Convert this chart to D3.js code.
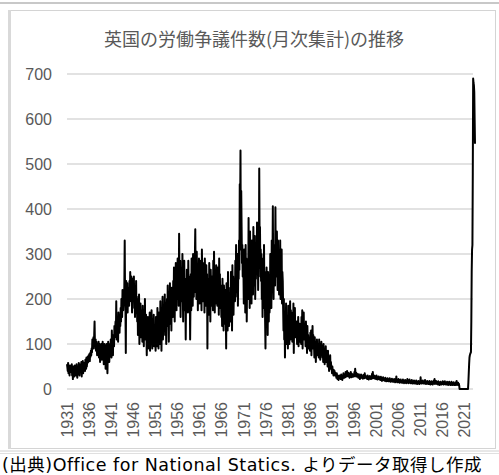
<!DOCTYPE html>
<html>
<head>
<meta charset="utf-8">
<script src="https://cdn.jsdelivr.net/npm/d3@7"></script>
<style>
  html, body { margin: 0; padding: 0; background: #fff; }
  svg { display: block; }
</style>
</head>
<body>
<script>
// 月次の労働争議件数(1931年1月〜2023年7月)
const startYear = 1931;
const monthlyCounts = [
  55,48,40,58,35,50,45,30,52,44,38,48,        // 1931
  42,55,30,46,22,50,38,45,28,52,35,44,        // 1932
  48,30,55,40,25,45,50,35,58,42,30,50,        // 1933
  45,55,38,60,28,50,44,62,35,55,48,58,        // 1934
  52,40,65,55,45,70,50,62,58,72,60,75,        // 1935
  68,78,62,80,72,85,75,90,82,110,95,105,      // 1936
  115,90,120,150,100,95,110,85,105,90,75,100, // 1937
  95,80,105,70,90,100,60,85,95,75,100,65,     // 1938
  90,105,75,95,55,85,100,70,90,45,80,95,      // 1939
  100,65,35,80,105,70,95,60,85,100,75,110,    // 1940
  90,70,130,85,110,75,120,100,95,140,115,130, // 1941
  150,120,195,110,160,130,145,105,170,140,155,125, // 1942
  165,140,180,150,200,170,160,220,185,175,210,190, // 1943
  230,330,200,180,80,240,215,190,235,170,225,200,  // 1944
  210,185,240,205,260,230,195,250,220,170,245,210, // 1945
  235,195,250,180,215,160,225,190,240,170,205,150, // 1946
  200,120,180,145,210,100,165,130,190,115,175,140, // 1947
  160,105,185,130,150,95,175,120,200,110,145,165,  // 1948
  130,75,140,115,160,90,125,145,100,170,85,135,    // 1949
  150,100,175,120,90,155,130,105,165,95,140,120,   // 1950
  135,85,160,110,145,95,180,125,150,90,170,115,    // 1951
  140,100,195,120,165,85,175,135,205,110,155,130,  // 1952
  185,145,210,120,190,160,100,175,200,140,230,165, // 1953
  190,105,215,160,235,145,180,200,130,225,170,205, // 1954
  160,240,185,270,210,150,255,195,280,220,175,265, // 1955
  230,290,200,270,185,345,240,210,285,160,255,225, // 1956
  270,195,300,230,150,260,215,285,175,245,200,110, // 1957
  220,180,265,200,240,170,285,215,250,190,230,110, // 1958
  200,255,175,290,230,265,185,300,240,205,270,215, // 1959
  300,355,250,280,200,305,240,275,175,260,220,290, // 1960
  245,190,285,210,265,230,175,310,255,195,280,225, // 1961
  200,265,170,290,220,240,185,275,210,255,90,230,  // 1962
  190,245,165,280,205,230,150,265,215,185,250,200, // 1963
  225,175,285,195,305,215,170,260,235,190,275,210, // 1964
  250,185,270,215,240,165,290,205,255,180,230,200, // 1965
  160,215,140,245,185,210,130,230,175,200,145,220, // 1966
  180,90,235,150,205,130,260,170,225,140,195,165,  // 1967
  210,150,260,180,240,130,275,195,250,165,220,205, // 1968
  240,195,285,215,320,230,260,205,300,185,275,245, // 1969
  330,265,455,390,530,310,440,360,280,320,250,300, // 1970
  265,190,310,230,280,170,320,210,290,150,245,200, // 1971
  280,200,380,240,310,180,350,220,300,260,190,330, // 1972
  250,330,210,360,270,300,230,340,200,280,245,310, // 1973
  260,370,290,340,220,300,250,490,330,360,270,310, // 1974
  240,300,200,280,160,250,290,180,320,210,260,150, // 1975
  90,220,140,270,180,240,120,260,200,150,230,170,  // 1976
  190,300,220,260,180,330,240,280,406,250,200,300, // 1977
  260,320,230,404,280,300,250,350,270,220,330,260, // 1978
  300,210,280,250,330,200,270,230,310,190,260,240, // 1979
  180,130,200,110,170,70,160,120,190,100,150,130,  // 1980
  140,90,185,120,160,100,145,195,110,175,130,155,  // 1981
  150,105,170,125,190,80,160,135,180,115,150,140,  // 1982
  120,150,100,140,115,160,95,130,110,145,105,125,  // 1983
  140,100,160,120,175,90,150,130,170,110,145,120,  // 1984
  130,95,150,110,125,80,140,100,120,90,115,105,    // 1985
  110,85,125,95,130,75,115,100,140,90,120,105,     // 1986
  100,70,115,85,105,60,95,80,110,75,100,90,        // 1987
  95,70,110,80,100,65,90,75,105,85,95,70,          // 1988
  85,60,100,70,90,55,80,65,95,60,85,70,            // 1989
  75,50,85,55,70,40,65,50,75,45,60,50,             // 1990
  45,35,50,40,38,30,42,35,40,30,36,32,             // 1991
  30,25,35,28,22,30,25,20,28,24,30,26,             // 1992
  28,22,32,25,30,20,27,24,35,28,30,25,             // 1993
  32,26,38,30,35,28,40,32,30,36,28,34,             // 1994
  30,25,35,28,38,30,26,34,29,32,27,30,             // 1995
  33,28,38,30,45,32,28,36,30,34,27,31,             // 1996
  30,25,33,28,30,22,27,24,32,26,29,25,             // 1997
  28,23,31,26,29,24,35,27,30,25,28,24,             // 1998
  27,22,30,25,28,21,26,23,29,24,27,22,             // 1999
  28,23,34,25,38,24,27,30,26,29,23,27,             // 2000
  26,22,30,24,27,21,25,22,28,23,26,21,             // 2001
  24,20,27,22,25,18,23,21,26,20,24,19,             // 2002
  22,18,25,20,23,17,21,19,24,18,22,17,             // 2003
  21,17,24,19,22,16,20,18,23,17,21,16,             // 2004
  20,16,22,18,21,15,19,17,28,16,20,15,             // 2005
  19,15,22,17,20,14,18,16,21,15,19,14,             // 2006
  18,14,21,16,19,13,17,15,20,14,18,13,             // 2007
  19,14,22,16,20,13,18,15,21,14,18,13,             // 2008
  17,13,20,15,18,12,16,14,19,13,17,12,             // 2009
  16,12,19,14,17,11,15,13,18,12,16,11,             // 2010
  17,13,26,15,18,12,16,14,19,13,17,12,             // 2011
  16,12,20,14,17,11,15,13,18,12,16,11,             // 2012
  15,11,18,13,16,10,14,12,17,11,15,10,             // 2013
  16,12,19,14,22,11,15,13,18,12,16,11,             // 2014
  14,10,17,12,15,9,13,11,16,10,14,10,              // 2015
  15,11,17,13,16,10,14,12,17,11,15,10,             // 2016
  14,10,16,12,15,9,13,11,16,10,14,9,               // 2017
  13,9,16,11,14,9,12,10,15,9,13,9,                 // 2018
  13,9,15,11,18,9,12,10,14,9,12,8,                 // 2019
  0,0,0,0,0,0,0,0,0,0,0,0,                         // 2020
  0,0,0,0,0,0,0,0,0,0,0,0,                         // 2021
  15,35,55,70,75,78,80,82,150,260,310,320,         // 2022
  480,690,680,675,660,600,545                      // 2023
];
const yTicks = [0, 100, 200, 300, 400, 500, 600, 700];
const labelEvery = 60; // 5年ごとに年ラベル

const titleText = "英国の労働争議件数(月次集計)の推移";
const sourceText = "(出典)Office for National Statics. よりデータ取得し作成";

const W = 499, H = 475;
const svg = d3.select("body").append("svg").attr("width", W).attr("height", H);

// 上のセル罫線
svg.append("line").attr("x1", 0).attr("x2", W).attr("y1", 3).attr("y2", 3)
  .attr("stroke", "#c8c8c8").attr("stroke-width", 2);

// グラフ枠
svg.append("rect").attr("x", 10.5).attr("y", 10.5).attr("width", 485).attr("height", 438)
  .attr("fill", "#fff").attr("stroke", "#d4d4d4").attr("stroke-width", 1);
svg.append("rect").attr("x", 8).attr("y", 10).attr("width", 3).attr("height", 439)
  .attr("fill", "#d9d9d9");

// タイトル
svg.append("text").attr("x", 254).attr("y", 46).attr("text-anchor", "middle")
  .attr("font-family", "'Noto Sans CJK JP', sans-serif").attr("font-size", 18)
  .attr("fill", "#595959").text(titleText);

const x = d3.scaleLinear().domain([0, monthlyCounts.length - 1]).range([67, 475]);
const y = d3.scaleLinear().domain([0, 700]).range([389, 74]);

// 目盛線
svg.append("g").selectAll("line").data(yTicks).join("line")
  .attr("x1", 67).attr("x2", 473)
  .attr("y1", d => y(d)).attr("y2", d => y(d))
  .attr("stroke", "#d9d9d9").attr("stroke-width", 1.3);

// 縦軸ラベル
const yAxis = d3.axisLeft(y).tickValues(yTicks).tickSize(0).tickPadding(0);
const gy = svg.append("g").attr("transform", "translate(52,0)").call(yAxis);
gy.select(".domain").remove();
gy.selectAll("text").attr("font-family", "'Liberation Sans', Arial, sans-serif")
  .attr("font-size", 16).attr("fill", "#595959");

// 横軸ラベル(回転)
const tickIdx = d3.range(0, monthlyCounts.length, labelEvery);
const xAxis = d3.axisBottom(x).tickValues(tickIdx).tickSize(0)
  .tickFormat(i => String(startYear + Math.floor(i / 12)));
const gx = svg.append("g").attr("transform", "translate(0,400)").call(xAxis);
gx.select(".domain").remove();
gx.selectAll("text")
  .attr("font-family", "'Liberation Sans', Arial, sans-serif")
  .attr("font-size", 16).attr("fill", "#595959")
  .attr("transform", "rotate(-90)")
  .attr("text-anchor", "end").attr("dx", 0).attr("dy", "0.35em").attr("x", -2).attr("y", 0);

// 系列の線
const line = d3.line().x((d, i) => x(i)).y(d => y(d));
svg.append("path").datum(monthlyCounts).attr("d", line)
  .attr("fill", "none").attr("stroke", "#000").attr("stroke-width", 2)
  .attr("stroke-linejoin", "round");

// 出典セル
svg.append("line").attr("x1", 0).attr("x2", W).attr("y1", 451).attr("y2", 451)
  .attr("stroke", "#d0d0d0").attr("stroke-width", 1);
svg.append("line").attr("x1", 0).attr("x2", W).attr("y1", 453.5).attr("y2", 453.5)
  .attr("stroke", "#e0e0e0").attr("stroke-width", 1);
svg.append("text").attr("x", 2).attr("y", 471)
  .attr("font-family", "'DejaVu Sans', 'Noto Sans CJK JP', sans-serif").attr("font-size", 17.5)
  .attr("letter-spacing", 0.5)
  .attr("fill", "#000").text(sourceText);
</script>
</body>
</html>
